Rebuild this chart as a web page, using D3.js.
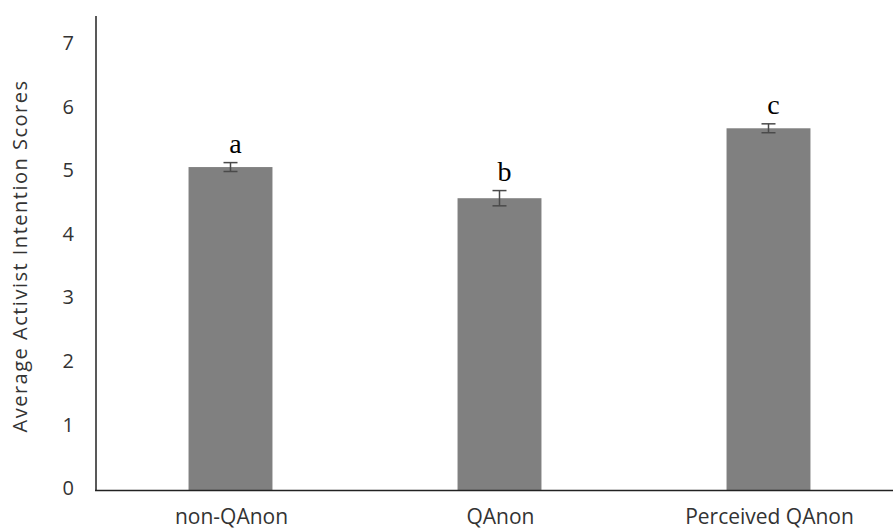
<!DOCTYPE html>
<html lang="en">
<head>
<meta charset="UTF-8">
<title>Activist Intention Scores</title>
<script src="https://cdn.jsdelivr.net/npm/d3@7"></script>
<style>
  body { margin: 0; background: #fff; }
  svg { display: block; }
  .tick-label { font-family: "Open Sans", sans-serif; font-size: 20px; fill: #333; }
</style>
</head>
<body>
<svg id="chart" width="893" height="530"></svg>
<script>
  var groups = ["non-QAnon", "QAnon", "Perceived QAnon"];
  var means = [5.08, 4.59, 5.69];
  var errs = [0.07, 0.12, 0.07];
  var letters = ["a", "b", "c"];
  var yTicks = [0, 1, 2, 3, 4, 5, 6, 7];

  var svg = d3.select("#chart");

  var x = d3.scaleBand().domain(groups).range([96, 903]).paddingInner(0.688).paddingOuter(0.344);
  var y = d3.scaleLinear().domain([0, 7]).range([490, 45]);

  // bars
  svg.selectAll("rect.bar")
      .data(groups)
      .enter()
      .append("rect")
      .attr("class", "bar")
      .attr("x", function (d) { return x(d); })
      .attr("width", x.bandwidth())
      .attr("y", function (d, i) { return y(means[i]); })
      .attr("height", function (d, i) { return y(0) - y(means[i]); })
      .attr("fill", "#808080");

  // error bars
  var eb = svg.selectAll("g.err")
      .data(groups)
      .enter()
      .append("g")
      .attr("class", "err")
      .attr("stroke", "#4a4a4a")
      .attr("stroke-width", 1.5);
  eb.append("line")
      .attr("x1", function (d) { return x(d) + x.bandwidth() / 2; })
      .attr("x2", function (d) { return x(d) + x.bandwidth() / 2; })
      .attr("y1", function (d, i) { return y(means[i] + errs[i]); })
      .attr("y2", function (d, i) { return y(means[i] - errs[i]); });
  eb.append("line")
      .attr("x1", function (d) { return x(d) + x.bandwidth() / 2 - 7; })
      .attr("x2", function (d) { return x(d) + x.bandwidth() / 2 + 7; })
      .attr("y1", function (d, i) { return y(means[i] + errs[i]); })
      .attr("y2", function (d, i) { return y(means[i] + errs[i]); });
  eb.append("line")
      .attr("x1", function (d) { return x(d) + x.bandwidth() / 2 - 7; })
      .attr("x2", function (d) { return x(d) + x.bandwidth() / 2 + 7; })
      .attr("y1", function (d, i) { return y(means[i] - errs[i]); })
      .attr("y2", function (d, i) { return y(means[i] - errs[i]); });

  // significance letters
  svg.selectAll("text.letter")
      .data(groups)
      .enter()
      .append("text")
      .attr("class", "letter")
      .attr("x", function (d) { return x(d) + x.bandwidth() / 2 + 5; })
      .attr("y", function (d, i) { return y(means[i] + errs[i]) - 10; })
      .attr("text-anchor", "middle")
      .style("font-family", "'Liberation Serif', 'Times New Roman', serif")
      .style("font-size", "28px")
      .style("fill", "#000")
      .text(function (d, i) { return letters[i]; });

  // y tick labels (no tick marks)
  svg.selectAll("text.ytick")
      .data(yTicks)
      .enter()
      .append("text")
      .attr("class", "tick-label")
      .attr("x", 74)
      .attr("y", function (d) { return y(d) - 2; })
      .attr("dy", "0.36em")
      .attr("text-anchor", "end")
      .text(function (d) { return d; });

  // x category labels
  svg.selectAll("text.xlab")
      .data(groups)
      .enter()
      .append("text")
      .attr("class", "tick-label")
      .attr("x", function (d) { return x(d) + x.bandwidth() / 2 + 1; })
      .attr("y", 524)
      .attr("text-anchor", "middle")
      .style("font-size", "21px")
      .text(function (d) { return d; });

  // axes lines
  svg.append("line")
      .attr("x1", 96).attr("x2", 96)
      .attr("y1", 16).attr("y2", y(0) + 0.5)
      .attr("stroke", "#222").attr("stroke-width", 1.5);
  svg.append("line")
      .attr("x1", 95).attr("x2", 893)
      .attr("y1", y(0) + 0.5).attr("y2", y(0) + 0.5)
      .attr("stroke", "#222").attr("stroke-width", 1.5);

  // y axis title
  svg.append("text")
      .attr("transform", "translate(20,256) rotate(-90)")
      .attr("text-anchor", "middle")
      .attr("dy", "0.35em")
      .style("font-family", "'Open Sans', sans-serif")
      .style("font-size", "20px")
      .style("letter-spacing", "1.5px")
      .style("fill", "#333")
      .text("Average Activist Intention Scores");
</script>
</body>
</html>
